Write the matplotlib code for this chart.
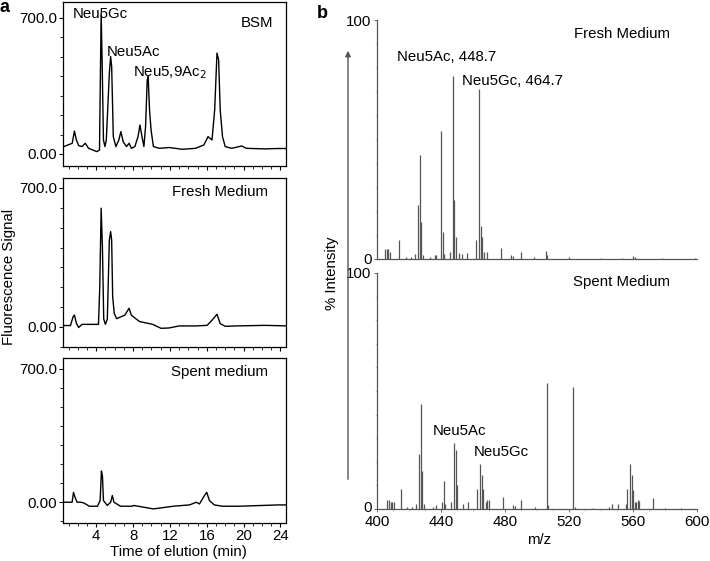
import numpy as np
import matplotlib
matplotlib.use("Agg")
import matplotlib.pyplot as plt
from matplotlib.ticker import MultipleLocator, FixedLocator
from matplotlib.transforms import ScaledTranslation

plt.rcParams['font.family'] = ['Liberation Sans', 'DejaVu Sans']
plt.rcParams['font.size'] = 10.8

# ---------------- data: HPLC traces (time in min, fluorescence signal) ----------------
bsm_t = [0.5, 1.40, 1.64, 1.85, 2.10, 2.46, 2.82, 3.17, 4.07, 4.36, 4.54, 4.65, 4.79, 4.95,
         5.10, 5.43, 5.57, 5.68, 5.86, 6.14, 6.46, 6.68, 6.93, 7.29, 7.57, 7.82, 8.20, 8.54,
         8.75, 8.97, 9.18, 9.36, 9.54, 9.64, 9.79, 9.96, 10.21, 10.86, 11.93, 13.36, 14.79,
         15.68, 16.14, 16.57, 16.86, 17.11, 17.29, 17.46, 17.71, 18.0, 18.71, 19.79, 20.3,
         22.3, 23.7, 25.0]
bsm_s = [38, 55, 118, 72, 43, 38, 55, 29, 12, 20, 725, 467, 72, 38,
         72, 415, 501, 450, 89, 38, 72, 115, 63, 38, 55, 29, 38, 89,
         149, 89, 38, 141, 381, 398, 227, 122, 38, 29, 33, 24, 29,
         46, 89, 72, 227, 519, 484, 227, 89, 38, 29, 41, 29,
         26, 28, 28]

fresh_t = [0.5, 1.21, 1.50, 1.64, 1.85, 2.10, 2.46, 4.25, 4.39, 4.54, 4.68, 4.82, 5.0,
           5.21, 5.43, 5.57, 5.68, 5.79, 5.96, 6.21, 7.10, 7.57, 7.82, 8.71, 10.14, 11.04,
           11.93, 13.0, 14.79, 16.04, 16.57, 17.11, 17.46, 18.0, 19.07, 22.3, 25.0]
fresh_s = [7, 7, 52, 60, 19, -3, 13, 13, 203, 598, 397, 40, 13,
           40, 438, 480, 438, 153, 69, 42, 59, 94, 59, 27, 13, -7,
           -5, 5, 5, 8, 34, 64, 17, 3, 5, 8, 5]

spent_t = [0.5, 1.39, 1.54, 1.71, 1.93, 2.36, 2.71, 3.25, 4.14, 4.43, 4.57, 4.68, 4.79,
           5.21, 5.57, 5.75, 5.93, 6.64, 7.89, 8.07, 10.21, 12.36, 14.14, 14.86, 15.21,
           15.75, 16.0, 16.29, 16.82, 17.71, 19.5, 23.8, 25.0]
spent_s = [0, 0, 52, 26, 0, 0, -5, -21, -21, 9, 164, 138, 9,
           -17, 0, 35, 0, -21, -21, -17, -35, -21, -14, 0, -9,
           35, 52, 9, -14, -21, -21, -14, -14]

# ---------------- data: MS spectra (m/z, % intensity) ----------------
fresh_mz = [405.0, 406.0, 407.0, 408.0, 413.8, 418.0, 421.0, 424.0, 425.8, 426.6, 427.7,
            429.0, 433.0, 436.0, 437.0, 440.0, 441.1, 442.0, 445.5, 447.6, 448.4, 449.4,
            451.0, 453.0, 456.5, 461.8, 464.0, 464.9, 465.8, 466.6, 468.5, 477.7, 484.0,
            485.0, 489.7, 498.0, 505.6, 506.5, 520.0, 540.0, 553.0, 560.0, 561.0, 578.0,
            599.0]
fresh_int = [4, 4, 4, 3, 8, 1, 1, 2, 22.6, 43.5, 15.6,
             1.5, 1, 1.5, 1.5, 53.7, 11.4, 2, 3, 76.7, 24.7, 9.3,
             2.5, 2, 2.5, 8, 71, 13.8, 9, 3, 3, 4.5, 1.5,
             1.2, 3, 0.8, 3.5, 1.5, 1, 0.6, 0.6, 1.2, 1, 0.6,
             0.6]

spent_mz = [406.5, 407.5, 408.5, 409.5, 410.5, 414.7, 419.0, 422.0, 424.5, 426.5, 427.3,
            428.4, 429.5, 435.0, 437.0, 440.5, 441.6, 442.5, 446.5, 448.4, 449.4, 450.2,
            453.5, 456.6, 462.8, 464.5, 465.5, 466.5, 468.0, 469.0, 470.0, 478.6, 485.2,
            486.5, 490.3, 498.6, 506.2, 507.0, 522.8, 523.5, 535.0, 545.0, 547.1, 550.4,
            555.5, 556.4, 558.3, 559.1, 559.9, 561.0, 562.0, 563.0, 564.0, 572.3, 580.0,
            590.0]
spent_int = [4, 4, 3, 3, 3, 8.5, 1, 1, 2, 23.2, 44.4,
             16.1, 2, 1, 1.5, 3, 11.9, 2, 3, 28.1, 25, 10,
             2, 3, 8.5, 18.9, 14.4, 8.5, 3, 4, 4, 5, 1.7,
             1.2, 4, 1, 53.2, 1.5, 51.5, 1, 0.5, 1, 2, 2.3,
             2, 8.5, 18.9, 14.4, 8, 3, 3, 4, 3.6, 4.7, 0.5,
             0.5]

W, H = 710, 561


def box(x0, y0, x1, y1):
    # pixel box (top-left origin) -> figure fraction rect
    return [x0 / W, 1 - y1 / H, (x1 - x0) / W, (y1 - y0) / H]


def ftext(x, y, s, **kw):
    fig.text(x / W, 1 - y / H, s, **kw)


fig = plt.figure(figsize=(W / 100, H / 100), dpi=100)

# ---------------- panel a ----------------
left_boxes = [box(63, 2, 286, 166), box(63, 178, 286, 347), box(63, 358, 286, 523)]
traces = [(bsm_t, bsm_s), (fresh_t, fresh_s), (spent_t, spent_s)]
ylims = [(-62, 782), (-101, 750), (-109, 757)]
for i, (rect, (t, s)) in enumerate(zip(left_boxes, traces)):
    ax = fig.add_axes(rect)
    ax.plot(t, s, color='black', lw=1.0)
    ax.set_xlim(0.4, 24.6)
    ax.set_ylim(*ylims[i])
    ax.yaxis.set_major_locator(FixedLocator([0, 700]))
    ax.set_yticklabels(['0.00', '700.0'])
    ax.yaxis.set_minor_locator(MultipleLocator(100))
    ax.xaxis.set_major_locator(MultipleLocator(4))
    ax.xaxis.set_minor_locator(MultipleLocator(1))
    ax.tick_params(which='major', direction='out', length=3, width=0.8, pad=1, labelsize=10.8)
    ax.tick_params(which='minor', direction='out', length=2, width=0.6)
    if i < 2:
        ax.tick_params(axis='x', labelbottom=False)
    else:
        ax.set_xticks([4, 8, 12, 16, 20, 24])
    for sp in ax.spines.values():
        sp.set_linewidth(0.9)

ftext(0, 8, 'a', fontsize=13, fontweight='bold', va='center')
ftext(273, 23, 'BSM', ha='right', va='center')
ftext(73, 14, 'Neu5Gc', va='center')
ftext(107, 52, 'Neu5Ac', va='center')
ftext(133, 73, 'Neu5,9Ac$_2$', va='center')
ftext(268, 192, 'Fresh Medium', ha='right', va='center')
ftext(268, 372, 'Spent medium', ha='right', va='center')
ftext(9, 277, 'Fluorescence Signal', rotation=90, ha='center', va='center')
ftext(178, 552, 'Time of elution (min)', ha='center', va='center')

# ---------------- panel b ----------------
grey = '#555555'
right_boxes = [box(377, 20, 697, 259), box(377, 273, 697, 509)]
spectra = [(fresh_mz, fresh_int), (spent_mz, spent_int)]
for i, (rect, (mz, inten)) in enumerate(zip(right_boxes, spectra)):
    ax = fig.add_axes(rect)
    ax.vlines(mz, 0, inten, color=grey, lw=0.9)
    ax.set_xlim(400, 600)
    ax.set_ylim(0, 100)
    ax.spines['top'].set_visible(False)
    ax.spines['right'].set_visible(False)
    ax.spines['left'].set_color(grey)
    ax.spines['bottom'].set_color(grey)
    ax.spines['left'].set_linewidth(0.9)
    ax.spines['bottom'].set_linewidth(0.9)
    ax.yaxis.set_major_locator(FixedLocator([0, 100]))
    ax.yaxis.set_minor_locator(MultipleLocator(10))
    ax.xaxis.set_major_locator(MultipleLocator(40))
    ax.xaxis.set_minor_locator(MultipleLocator(10))
    ax.tick_params(which='major', direction='out', length=2, width=0.6, color=grey,
                   pad=2, labelsize=10.8)
    ax.tick_params(which='minor', direction='out', length=1.5, width=0.5, color='#bbbbbb')
    if i == 0:
        ax.tick_params(axis='x', which='both', labelbottom=False, length=0)
    else:
        # nudge the "0" label up a little, as in the original
        zero_lab = ax.yaxis.get_major_ticks()[0].label1
        zero_lab.set_transform(zero_lab.get_transform() +
                               ScaledTranslation(0, 3 / 100, fig.dpi_scale_trans))

ftext(317, 13, 'b', fontsize=13, fontweight='bold', va='center')
ftext(670, 34, 'Fresh Medium', ha='right', va='center')
ftext(397, 57, 'Neu5Ac, 448.7', va='center')
ftext(462, 81, 'Neu5Gc, 464.7', va='center')
ftext(670, 282, 'Spent Medium', ha='right', va='center')
ftext(433, 431, 'Neu5Ac', va='center')
ftext(474, 452, 'Neu5Gc', va='center')
ftext(332, 273, '% Intensity', rotation=90, ha='center', va='center')
ftext(539, 540, 'm/z', ha='center', va='center')

fig.patches.append(matplotlib.patches.FancyArrowPatch(
    (348 / W, 1 - 482 / H), (348 / W, 1 - 48 / H), transform=fig.transFigure,
    arrowstyle='-|>', mutation_scale=8, color=grey, lw=1.0))

fig.savefig('out.png', dpi=100)
